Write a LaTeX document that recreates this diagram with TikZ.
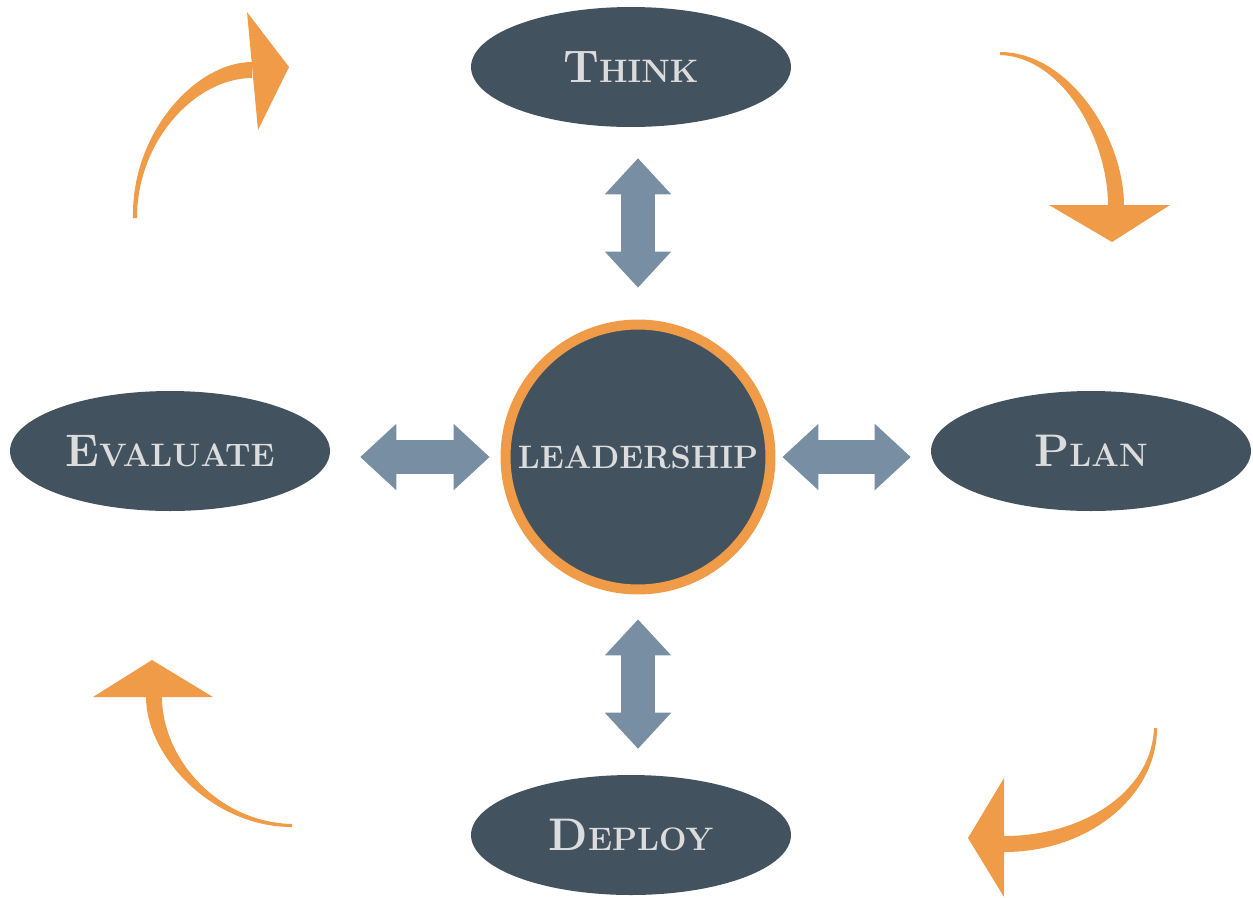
\documentclass[tikz,border=0pt]{standalone}
\usepackage{fontspec}
\usetikzlibrary{arrows.meta,shapes.geometric}
\definecolor{slate}{HTML}{43525F}
\definecolor{steel}{HTML}{788EA3}
\definecolor{amber}{HTML}{F09B48}
\definecolor{silver}{HTML}{DCDCDC}
\newcommand{\capit}[2]{{\fontsize{26}{26}\selectfont #1}{\fontsize{18.5}{18.5}\selectfont #2}}
\begin{document}
\begin{tikzpicture}[x=0.02cm,y=-0.02cm,
    stage/.style={ellipse,fill=slate,minimum width=6.4cm,minimum height=2.4cm,text=silver,font=\bfseries},
    core/.style={circle,fill=slate,draw=amber,line width=0.2cm,minimum size=5.3cm,inner sep=0pt,text=silver,font=\bfseries},
    fat/.style={draw=steel,line width=0.68cm,
        {Triangle[length=0.72cm,width=1.33cm,line width=0pt 0]}-{Triangle[length=0.72cm,width=1.33cm,line width=0pt 0]}}]
    \useasboundingbox (0,0) rectangle (1253,897);
    %% stages
    \node[stage] (think) at (631,67) {\capit{T}{HINK}};
    \node[stage] (plan) at (1091,451) {\capit{P}{LAN}};
    \node[stage] (deploy) at (631,835) {\capit{D}{EPLOY}};
    \node[stage] (evaluate) at (170,451) {\capit{E}{VALUATE}};
    \node[core] (lead) at (638,457) {{\fontsize{18.5}{18.5}\selectfont LEADERSHIP}};
    %% links
    \draw[fat,shorten <=0.64cm,shorten >=0.62cm] (lead.north) -- (lead.north |- think.south);
    \draw[fat,shorten <=0.5cm,shorten >=0.52cm] (lead.south) -- (lead.south |- deploy.north);
    \draw[fat,shorten <=0.22cm,shorten >=0.6cm] (lead.west) -- (lead.west -| evaluate.east);
    \draw[fat,shorten <=0.14cm,shorten >=0.4cm] (lead.east) -- (lead.east -| plan.west);
    %% cycle arrows
    \fill[amber] (133,218) .. controls (131,133) and (196,62) .. (252,62) -- (252,78) .. controls (196,78) and (137,140) .. (137,218) -- cycle;
    \fill[amber] (247,12) -- (289,67) -- (258,130) -- cycle;
    \fill[amber] (1000,52) .. controls (1068,52) and (1124,136) .. (1124,206) -- (1108,206) .. controls (1108,138) and (1062,57) .. (1000,55) -- cycle;
    \fill[amber] (1049,205) -- (1170,205) -- (1112,242) -- cycle;
    \fill[amber] (1157,728) .. controls (1157,796) and (1089,852) .. (1004,852) -- (1004,836) .. controls (1085,836) and (1152,790) .. (1154,728) -- cycle;
    \fill[amber] (1004,778) -- (968,838) -- (1004,897) -- cycle;
    \fill[amber] (292,827) .. controls (212,827) and (146,756) .. (146,697) -- (162,697) .. controls (162,758) and (217,822) .. (292,824) -- cycle;
    \fill[amber] (93,697) -- (213,697) -- (152,660) -- cycle;
\end{tikzpicture}
\end{document}
